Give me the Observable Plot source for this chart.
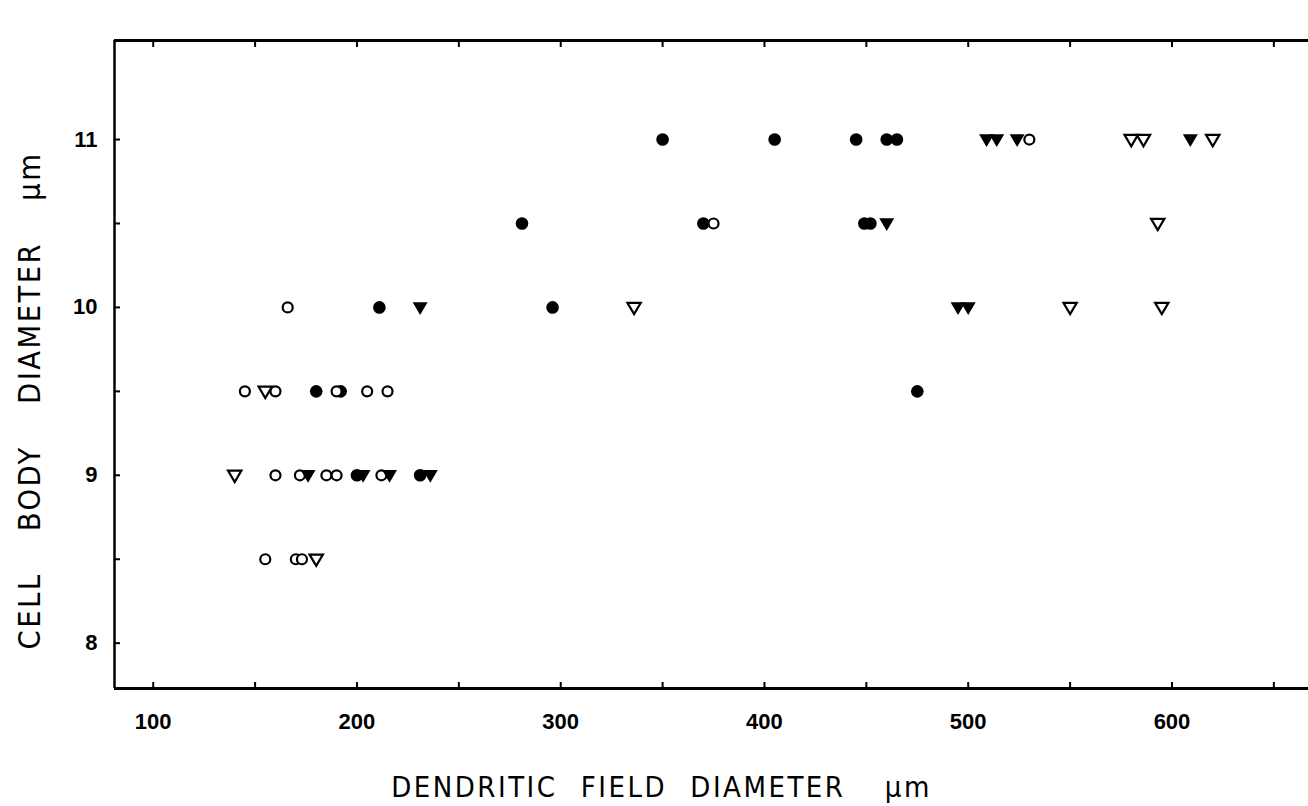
<!DOCTYPE html>
<html>
<head>
<meta charset="utf-8">
<script src="https://cdn.jsdelivr.net/npm/d3@7"></script>
<script src="https://cdn.jsdelivr.net/npm/@observablehq/plot@0.6"></script>
<style>
  html, body { margin: 0; padding: 0; background: #fff; }
  #chart svg { display: block; }
  #chart g[aria-label="text"] text { letter-spacing: 2.5px; white-space: pre; font-stretch: condensed; }
</style>
</head>
<body>
<div id="chart"></div>
<script>
// Axis extents and ticks
const xDomain = [81, 667];
const yDomain = [7.73, 11.59];
const xTickMarks = [100, 150, 200, 250, 300, 350, 400, 450, 500, 550, 600, 650];
const xTickLabels = [100, 200, 300, 400, 500, 600];
const yTickMarks = [8, 8.5, 9, 9.5, 10, 10.5, 11];
const yTickLabels = [8, 9, 10, 11];
const xTitle = "DENDRITIC\u2002\u2009FIELD\u2002\u2009DIAMETER\u2003 µm";
const yTitle = "CELL\u2003 BODY\u2003 DIAMETER\u2003 µm";

// Series: [dendritic field diameter, cell body diameter]
const filledCircles = [
  [350, 11], [405, 11], [445, 11], [460, 11], [465, 11],
  [281, 10.5], [370, 10.5], [449, 10.5], [452, 10.5],
  [211, 10], [296, 10],
  [180, 9.5], [192, 9.5], [475, 9.5],
  [200, 9], [231, 9]
];
const openCircles = [
  [530, 11],
  [375, 10.5],
  [166, 10],
  [145, 9.5], [160, 9.5], [190, 9.5], [205, 9.5], [215, 9.5],
  [160, 9], [172, 9], [185, 9], [190, 9], [212, 9],
  [155, 8.5], [170, 8.5], [173, 8.5]
];
const openTriangles = [
  [580, 11], [586, 11], [620, 11],
  [593, 10.5],
  [336, 10], [550, 10], [595, 10],
  [155, 9.5],
  [140, 9],
  [180, 8.5]
];
const filledTriangles = [
  [509, 11], [514, 11], [524, 11], [609, 11],
  [460, 10.5],
  [231, 10], [495, 10], [500, 10],
  [176, 9], [203, 9], [216, 9], [236, 9]
];

const triDown = {
  draw(ctx, size) {
    const r = Math.sqrt(size / Math.PI);
    ctx.moveTo(-r * 1.15, -r * 0.8);
    ctx.lineTo(r * 1.15, -r * 0.8);
    ctx.lineTo(0, r * 1.15);
    ctx.closePath();
  }
};

const px = d => d[0], py = d => d[1];
const titleFont = "'Liberation Sans Narrow', 'DejaVu Sans Condensed', 'Liberation Sans', sans-serif";

const chart = Plot.plot({
  width: 1308,
  height: 806,
  marginLeft: 114,
  marginRight: 0,
  marginTop: 40,
  marginBottom: 118,
  style: { fontFamily: "'Liberation Sans', Arial, sans-serif", background: "#fff", color: "#000" },
  x: { domain: xDomain, label: null },
  y: { domain: yDomain, label: null },
  marks: [
    // frame
    Plot.ruleY(yDomain, { stroke: "#000", strokeWidth: 3 }),
    Plot.ruleX([xDomain[0]], { stroke: "#000", strokeWidth: 2.5 }),
    // inward ticks
    Plot.axisX({ anchor: "bottom", ticks: xTickMarks, tickSize: -6, strokeWidth: 2, tickFormat: () => "", label: null }),
    Plot.axisX({ anchor: "top", ticks: xTickMarks, tickSize: -6, strokeWidth: 2, tickFormat: () => "", label: null }),
    Plot.axisY({ anchor: "left", ticks: yTickMarks, tickSize: -6, strokeWidth: 2, tickFormat: () => "", label: null }),
    // tick labels
    Plot.axisX({ anchor: "bottom", ticks: xTickLabels, tickSize: 0, tickPadding: 25, tickFormat: d3.format("d"), fontSize: 22, fontWeight: "bold", label: null }),
    Plot.axisY({ anchor: "left", ticks: yTickLabels, tickSize: 0, tickPadding: 17, tickFormat: d3.format("d"), fontSize: 22, fontWeight: "bold", label: null }),
    // titles
    Plot.text([xTitle], { text: d => d, frameAnchor: "bottom", textAnchor: "middle", lineAnchor: "bottom", dx: -50, dy: 108, fontSize: 29, fontFamily: titleFont, fill: "#000" }),
    Plot.text([yTitle], { text: d => d, frameAnchor: "left", textAnchor: "middle", lineAnchor: "middle", dx: -84, dy: 36, rotate: -90, fontSize: 30.5, fontFamily: titleFont, fill: "#000" }),
    // data
    Plot.dot(filledCircles, { x: px, y: py, r: 6.3, fill: "#000", stroke: "none" }),
    Plot.dot(openCircles, { x: px, y: py, r: 5, fill: "#fff", stroke: "#000", strokeWidth: 2.2 }),
    Plot.dot(openTriangles, { x: px, y: py, r: 5.8, symbol: triDown, fill: "#fff", stroke: "#000", strokeWidth: 2.2 }),
    Plot.dot(filledTriangles, { x: px, y: py, r: 6.5, symbol: triDown, fill: "#000", stroke: "none" })
  ]
});

document.getElementById("chart").appendChild(chart);
</script>
</body>
</html>
